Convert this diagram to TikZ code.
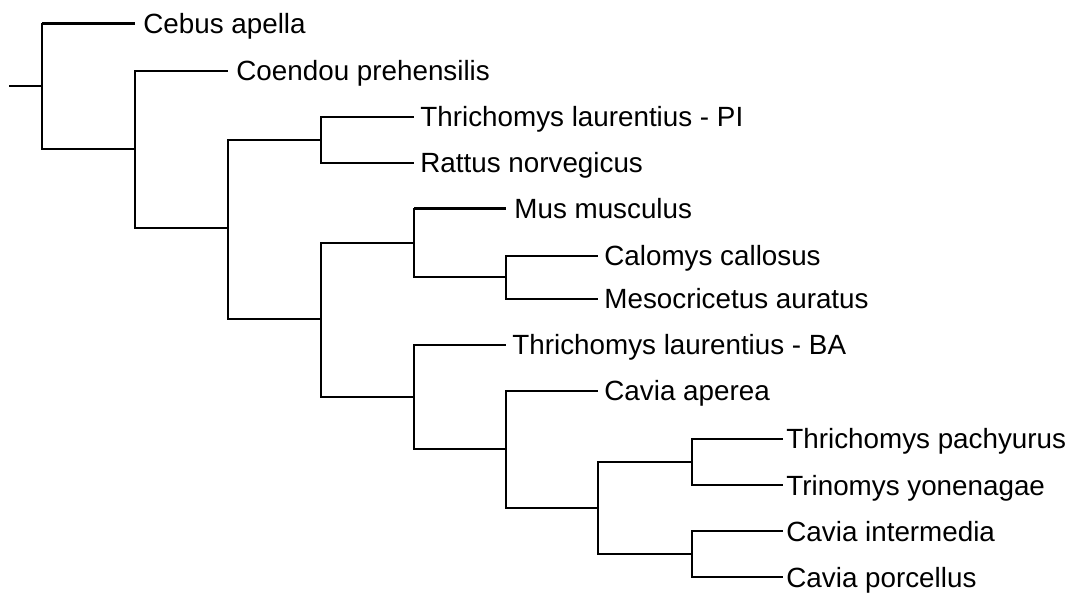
\documentclass[tikz,border=0pt]{standalone}
\usepackage{fontspec}
\setmainfont{Liberation Sans}
\usepackage{tikz}
\usetikzlibrary{positioning}

\begin{document}
\begin{tikzpicture}[
  x=0.5pt, y=-0.5pt,
  branch/.style={line width=1pt, black},
  heavy/.style={branch, line width=1.5pt},
  leaf/.style={font=\fontsize{13.9}{16}\selectfont, inner sep=0pt, text height=13pt, text depth=3pt}
]
\useasboundingbox (0,0) rectangle (1069,597);

% internal nodes
\coordinate (base) at (9, 86);
\coordinate (n0)  at (42, 86);
\coordinate (n1)  at (135, 149);
\coordinate (n2)  at (228, 228);
\coordinate (n3)  at (321, 140);
\coordinate (n4)  at (321, 319);
\coordinate (n5)  at (414, 243);
\coordinate (n6)  at (506, 277);
\coordinate (n7)  at (414, 397);
\coordinate (n8)  at (506, 449);
\coordinate (n9)  at (598, 508);
\coordinate (n10) at (692, 462);
\coordinate (n11) at (692, 554);

% tips
\coordinate (tCeb) at (135, 24);
\coordinate (tCoe) at (228, 71);
\coordinate (tTpi) at (414, 117);
\coordinate (tRat) at (414, 163);
\coordinate (tMus) at (506, 209);
\coordinate (tCal) at (598, 256);
\coordinate (tMes) at (598, 299);
\coordinate (tTba) at (506, 345);
\coordinate (tCap) at (598, 391);
\coordinate (tTpa) at (783, 439);
\coordinate (tTri) at (783, 485);
\coordinate (tCin) at (783, 531);
\coordinate (tCpo) at (783, 577);

% labels
\node[leaf, right=4pt of tCeb] (Ceb) {Cebus apella};
\node[leaf, right=4pt of tCoe] (Coe) {Coendou prehensilis};
\node[leaf, right=3pt of tTpi] (Tpi) {Thrichomys laurentius - PI};
\node[leaf, right=3pt of tRat] (Rat) {Rattus norvegicus};
\node[leaf, right=4pt of tMus] (Mus) {Mus musculus};
\node[leaf, right=3pt of tCal] (Cal) {Calomys callosus};
\node[leaf, right=3pt of tMes] (Mes) {Mesocricetus auratus};
\node[leaf, right=3pt of tTba] (Tba) {Thrichomys laurentius - BA};
\node[leaf, right=3pt of tCap] (Cap) {Cavia aperea};
\node[leaf, right=1.5pt of tTpa] (Tpa) {Thrichomys pachyurus};
\node[leaf, right=1.5pt of tTri] (Tri) {Trinomys yonenagae};
\node[leaf, right=1.5pt of tCin] (Cin) {Cavia intermedia};
\node[leaf, right=1.5pt of tCpo] (Cpo) {Cavia porcellus};

% branches
\draw[branch] (base) -- (n0);
\draw[branch] (n0) |- (tCeb);
\draw[heavy] (n0 |- tCeb) -- (tCeb);
\draw[branch] (n0) |- (n1);
\draw[branch] (n1) |- (tCoe);
\draw[branch] (n1) |- (n2);
\draw[branch] (n2) |- (n3);
\draw[branch] (n2) |- (n4);
\draw[branch] (n3) |- (tTpi);
\draw[branch] (n3) |- (tRat);
\draw[branch] (n4) |- (n5);
\draw[branch] (n4) |- (n7);
\draw[branch] (n5) |- (tMus);
\draw[heavy] (n5 |- tMus) -- (tMus);
\draw[branch] (n5) |- (n6);
\draw[branch] (n6) |- (tCal);
\draw[branch] (n6) |- (tMes);
\draw[branch] (n7) |- (tTba);
\draw[branch] (n7) |- (n8);
\draw[branch] (n8) |- (tCap);
\draw[branch] (n8) |- (n9);
\draw[branch] (n9) |- (n10);
\draw[branch] (n9) |- (n11);
\draw[branch] (n10) |- (tTpa);
\draw[branch] (n10) |- (tTri);
\draw[branch] (n11) |- (tCin);
\draw[branch] (n11) |- (tCpo);

\end{tikzpicture}
\end{document}
